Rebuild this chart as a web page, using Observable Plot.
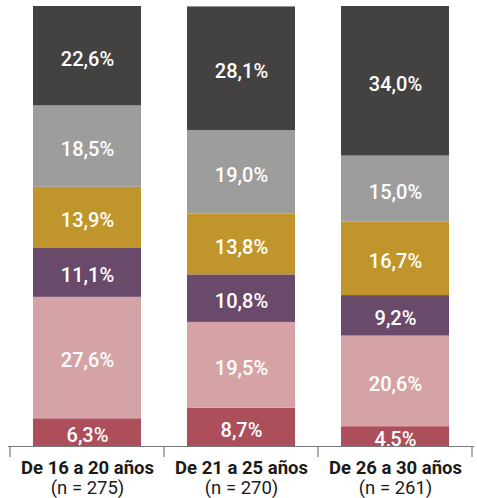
<!DOCTYPE html>
<html>
<head>
<meta charset="utf-8">
<script src="https://cdn.jsdelivr.net/npm/d3@7"></script>
<script src="https://cdn.jsdelivr.net/npm/@observablehq/plot@0.6"></script>
<style>
  html, body { margin: 0; padding: 0; background: #fff; }
  svg { display: block; }
</style>
</head>
<body>
<div id="chart"></div>
<script>
const groups = ["De 16 a 20 años", "De 21 a 25 años", "De 26 a 30 años"];
const sampleSizes = ["(n = 275)", "(n = 270)", "(n = 261)"];
const series = ["Serie 1", "Serie 2", "Serie 3", "Serie 4", "Serie 5", "Serie 6"];
const colors = ["#ad4e5b", "#d5a3a5", "#6a4a6a", "#c0952c", "#9d9d9c", "#434241"];
const values16to20 = [6.3, 27.6, 11.1, 13.9, 18.5, 22.6];
const values21to25 = [8.7, 19.5, 10.8, 13.8, 19.0, 28.1];
const values26to30 = [4.5, 20.6, 9.2, 16.7, 15.0, 34.0];

const valuesByGroup = [values16to20, values21to25, values26to30];
const data = groups.flatMap((g, i) =>
  series.map((s, j) => ({group: g, serie: s, value: valuesByGroup[i][j]}))
);
const fmt = v => v.toFixed(1).replace(".", ",") + "%";

const W = 477, H = 498;
const mL = 10, mR = 5;
const step = (W - mL - mR) / groups.length;
const barInset = (step - 108) / 2;

const boundaryTicks = (index, scales, values, dims) => {
  const x = scales.x, y = scales.y;
  const s = x(groups[1]) - x(groups[0]);
  const edges = [...groups.map(g => x(g)), x(groups[groups.length - 1]) + s];
  const y0 = y(0);
  const g = d3.create("svg:g").attr("stroke", "#7a7a7a").attr("stroke-width", 1.2);
  g.selectAll("line").data(edges).join("line")
    .attr("x1", d => d).attr("x2", d => d)
    .attr("y1", y0).attr("y2", y0 + 11);
  return g.node();
};

const chart = Plot.plot({
  width: W,
  height: H,
  marginTop: 6,
  marginBottom: 52,
  marginLeft: mL,
  marginRight: mR,
  style: {fontFamily: "Roboto, sans-serif", background: "#fff"},
  x: {domain: groups, padding: 0, axis: null},
  y: {domain: [0, 100], axis: null},
  color: {domain: series, range: colors},
  marks: [
    Plot.barY(data, {
      x: "group", y: "value", fill: "serie",
      insetLeft: barInset, insetRight: barInset
    }),
    Plot.text(data, Plot.stackY({
      x: "group", y: "value", z: "serie",
      text: d => fmt(d.value),
      fill: "white", fontSize: 20, fontWeight: 500, dy: 3
    })),
    Plot.ruleY([0], {stroke: "#7a7a7a", strokeWidth: 1.2, insetLeft: -2, insetRight: -2}),
    boundaryTicks,
    Plot.text(groups, {
      x: d => d, frameAnchor: "bottom", lineAnchor: "top", dy: 14,
      text: d => d, fontSize: 18.5, fontWeight: "bold", fill: "#1a1a1a"
    }),
    Plot.text(groups, {
      x: d => d, frameAnchor: "bottom", lineAnchor: "top", dy: 34,
      text: (d, i) => sampleSizes[i], fontSize: 18.5, fill: "#1a1a1a"
    })
  ]
});
document.getElementById("chart").appendChild(chart);
</script>
</body>
</html>
